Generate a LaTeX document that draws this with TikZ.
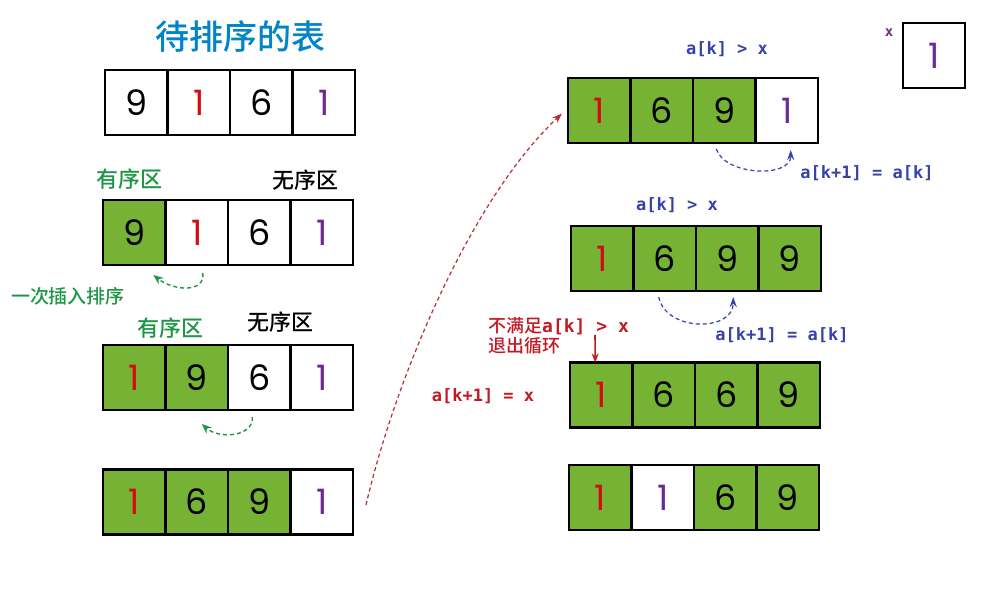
\documentclass[tikz,border=0pt]{standalone}
\usepackage{fontspec}
\setmainfont{Poppins}
\newfontfamily\cjk{Noto Sans CJK SC}
\IfFontExistsTF{Noto Sans CJK SC Medium}
  {\newfontfamily\cjkm{Noto Sans CJK SC Medium}}
  {\newfontfamily\cjkm{Noto Sans CJK SC}[FakeBold=1.5]}
\newfontfamily\mono{DejaVu Sans Mono}
\usetikzlibrary{arrows.meta}
\definecolor{cellgreen}{RGB}{118,178,52}
\definecolor{dred}{RGB}{212,10,20}
\definecolor{dpurple}{RGB}{110,40,150}
\definecolor{lblue}{RGB}{55,65,170}
\definecolor{lred}{RGB}{195,25,35}
\definecolor{lgreen}{RGB}{30,150,70}
\definecolor{tblue}{RGB}{0,133,199}
\definecolor{arcred}{RGB}{185,45,55}
\newcommand\mkrow[4]{%
  \foreach \f/\c/\d [count=\i] in {#4} {
    \node[cell,fill=\f,text=\c] (#1-\i) at ({#2+(\i-0.5)*62.5},#3) {\d};
  }
  \foreach \i in {1,...,4} {
    \draw[cellborder] (#1-\i.north west) rectangle (#1-\i.south east);
  }}
\begin{document}
\begin{tikzpicture}[x=1pt,y=-1pt,
  cell/.style={minimum width=62.5pt,minimum height=65pt,
    inner sep=0pt,outer sep=0pt,font=\fontsize{35}{35}\selectfont},
  cellborder/.style={draw=black,line width=2.1pt},
  cjklbl/.style={inner sep=0pt,font=\cjkm\fontsize{#1}{#1}\selectfont},
  monolbl/.style={inner sep=0pt,font=\mono\bfseries\fontsize{#1}{#1}\selectfont},
  garr/.style={draw=lgreen,line width=1.4pt,dash pattern=on 4pt off 3pt,
    -{Stealth[length=10pt,width=8pt]}},
  barr/.style={draw=lblue,line width=1.2pt,dash pattern=on 4pt off 3pt,
    -{Stealth[length=10pt,width=7pt]}},
  rarr/.style={draw=arcred,line width=1.2pt,dash pattern=on 4pt off 3pt,
    -{Stealth[length=10pt,width=7pt]}},
]
\useasboundingbox[fill=white] (0,0) rectangle (1007,589);

% title
\node[cjklbl=34,text=tblue] (title) at (240,37) {待排序的表};

% left arrays
\mkrow{A1}{105}{102.5}{white/black/9, white/dred/1, white/black/6, white/dpurple/1}
\mkrow{A2}{103}{232.5}{cellgreen/black/9, white/dred/1, white/black/6, white/dpurple/1}
\mkrow{A3}{103}{377.5}{cellgreen/dred/1, cellgreen/black/9, white/black/6, white/dpurple/1}
\mkrow{A4}{103}{502}{cellgreen/dred/1, cellgreen/black/6, cellgreen/black/9, white/dpurple/1}

% right arrays
\mkrow{R1}{568}{110.5}{cellgreen/dred/1, cellgreen/black/6, cellgreen/black/9, white/dpurple/1}
\mkrow{R2}{571}{258.5}{cellgreen/dred/1, cellgreen/black/6, cellgreen/black/9, cellgreen/black/9}
\mkrow{R3}{570}{395}{cellgreen/dred/1, cellgreen/black/6, cellgreen/black/6, cellgreen/black/9}
\mkrow{R4}{569}{497.5}{cellgreen/dred/1, white/dpurple/1, cellgreen/black/6, cellgreen/black/9}

% x box
\node[cell,minimum width=62pt,text=dpurple,draw=black,line width=2.1pt] (xbox) at (934,55.5) {1};
\node[monolbl=14,text=dpurple] (xlbl) at (889,33) {x};

% left labels
\node[cjklbl=22,text=lgreen] (ord2) at (129,179) {有序区};
\node[cjklbl=22] (unord2) at (305,180) {无序区};
\node[cjklbl=19,text=lgreen] (ins) at (68,296) {一次插入排序};
\node[cjklbl=22,text=lgreen] (ord3) at (170,328) {有序区};
\node[cjklbl=22] (unord3) at (280,322) {无序区};

% green arrows
\draw[garr] ([shift={(6,8)}]A2-2.south) .. controls +(3,19) and +(22,17) .. ([shift={(19,10)}]A2-1.south);
\draw[garr] ([shift={(-7,7)}]A3-3.south) .. controls +(2,19) and +(18,16) .. ([shift={(5,14)}]A3-2.south);

% red big arc
\draw[rarr] ([shift={(13,3)}]A4-4.east) .. controls (395,380) and (470,200) .. ([shift={(-6,3)}]R1-1.west);

% right labels
\node[monolbl=17,text=lblue] (c1) at (727,49) {a[k] > x};
\node[monolbl=17,text=lblue] (s1) at (867,173) {a[k+1] = a[k]};
\node[monolbl=17,text=lblue] (c2) at (677,205) {a[k] > x};
\node[monolbl=17,text=lblue] (s2) at (782,335) {a[k+1] = a[k]};
\node[inner sep=0pt,anchor=west,text=lred] (nm) at (488,326) {\cjkm\fontsize{18}{18}\selectfont 不满足\mono\bfseries a[k] > x};
\node[cjklbl=18,anchor=west,text=lred] (quit) at (488,346) {退出循环};
\node[monolbl=17,text=lred] (ax) at (483,396) {a[k+1] = x};

% blue arrows
\draw[barr] ([shift={(-8,6)}]R1-3.south) .. controls +(9,27) and +(0,28) .. ([shift={(4,7)}]R1-4.south);
\draw[barr] ([shift={(-6,6)}]R2-2.south) .. controls +(7,35) and +(0,35) .. ([shift={(6,6)}]R2-3.south);

% red down arrow
\coordinate (rs) at (595,335);
\draw[draw=lred,line width=1.6pt,-{Stealth[length=9pt,width=7pt]}] (rs) -- ([xshift=-6pt]R3-1.north);
\end{tikzpicture}
\end{document}
